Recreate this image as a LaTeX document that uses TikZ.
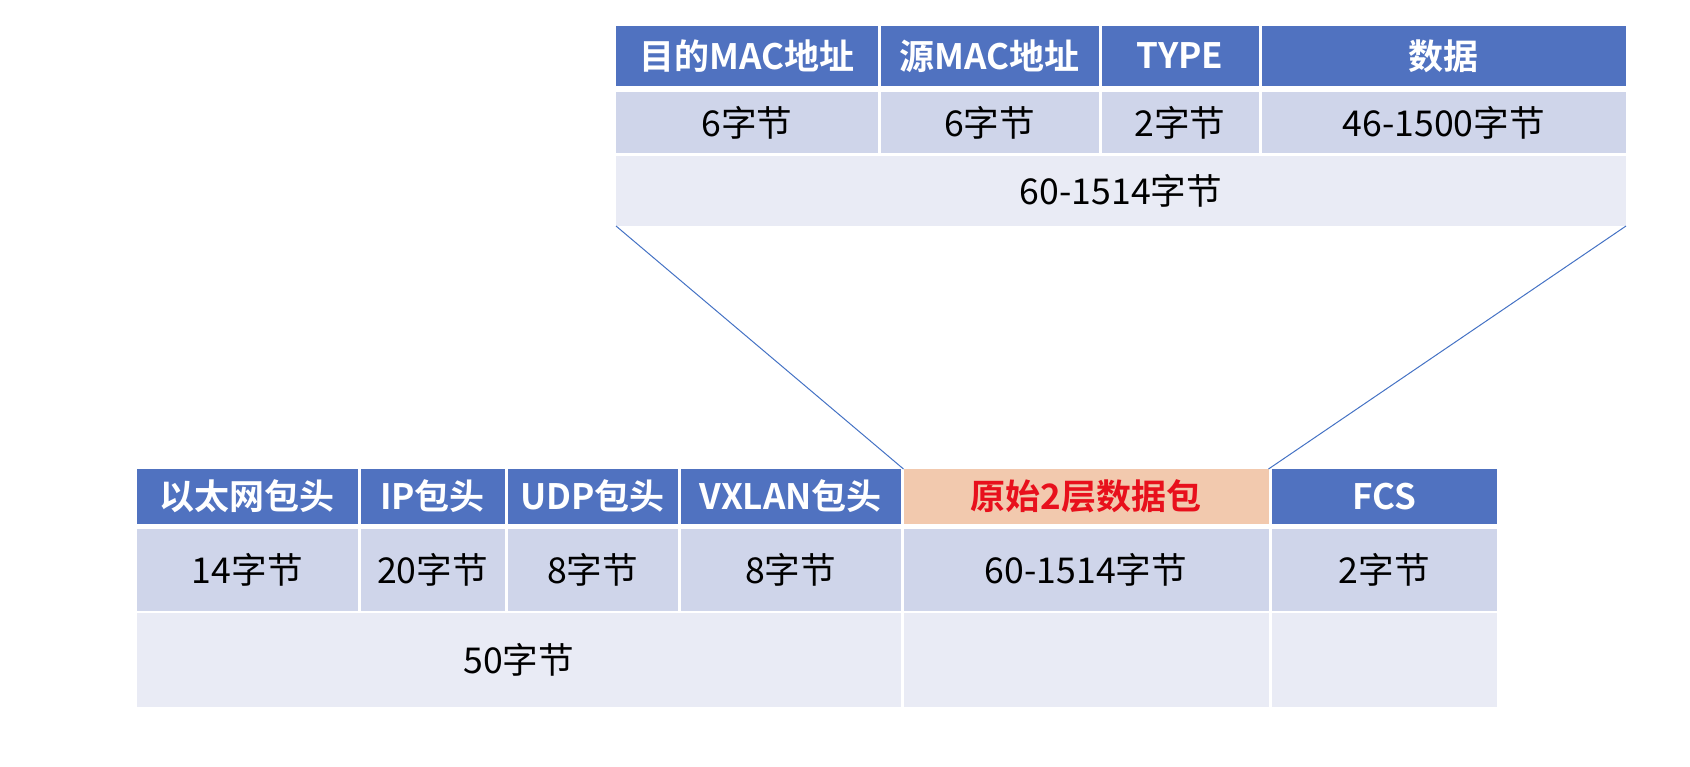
\documentclass[tikz,border=0pt]{standalone}
\usepackage{fontspec}
\setmainfont{Noto Sans CJK SC}[BoldFont={Noto Sans CJK SC Bold}]
\definecolor{hblue}{HTML}{5072C0}
\definecolor{rowa}{HTML}{CFD5EA}
\definecolor{rowb}{HTML}{E9EBF5}
\definecolor{horange}{HTML}{F2C9AE}
\definecolor{hred}{HTML}{E8101C}
\definecolor{lblue}{HTML}{4472C4}
\begin{document}
\begin{tikzpicture}[x=0.5pt,y=-0.5pt,
  cellbase/.style={rectangle, inner sep=0pt, outer sep=0pt, draw=none, anchor=center},
  hdr/.style={cellbase, fill=hblue, text=white, font=\fontsize{17.5}{20}\selectfont\bfseries},
  ohdr/.style={cellbase, fill=horange, text=hred, font=\fontsize{17.5}{20}\selectfont\bfseries},
  ra/.style={cellbase, fill=rowa, text=black, font=\fontsize{17.8}{20}\selectfont},
  rb/.style={cellbase, fill=rowb, text=black, font=\fontsize{17.8}{20}\selectfont},
  link/.style={draw=lblue, line width=0.5pt}]
\useasboundingbox (0,0) rectangle (1690,766);
% ---- top table ----
\node[hdr, minimum width=130.75pt, minimum height=30pt] (t1) at (746.75,56) {目的MAC地址};
\node[hdr, minimum width=109pt, minimum height=30pt] (t2) at (989.5,56) {源MAC地址};
\node[hdr, minimum width=78.5pt, minimum height=30pt] (t3) at (1180,56) {TYPE};
\node[hdr, minimum width=182.25pt, minimum height=30pt] (t4) at (1443.75,56) {数据};
\node[ra, minimum width=130.75pt, minimum height=30.5pt] (u1) at (746.75,122.5) {6字节};
\node[ra, minimum width=109pt, minimum height=30.5pt] (u2) at (989.5,122.5) {6字节};
\node[ra, minimum width=78.5pt, minimum height=30.5pt] (u3) at (1180,122.5) {2字节};
\node[ra, minimum width=182.25pt, minimum height=30.5pt] (u4) at (1443.75,122.5) {46-1500字节};
\node[rb, minimum width=505pt, minimum height=35pt] (v1) at (1121,191) {60-1514字节};
% ---- bottom table ----
\node[hdr, minimum width=110.25pt, minimum height=27.5pt] (b1) at (247.25,496.5) {以太网包头};
\node[hdr, minimum width=72pt, minimum height=27.5pt] (b2) at (432.5,496.5) {IP包头};
\node[hdr, minimum width=85pt, minimum height=27.5pt] (b3) at (592.5,496.5) {UDP包头};
\node[hdr, minimum width=110pt, minimum height=27.5pt] (b4) at (790.5,496.5) {VXLAN包头};
\node[ohdr, minimum width=182.5pt, minimum height=27.5pt] (b5) at (1086,496.5) {原始2层数据包};
\node[hdr, minimum width=112.75pt, minimum height=27.5pt] (b6) at (1384.25,496.5) {FCS};
\node[ra, minimum width=110.25pt, minimum height=41pt] (c1) at (247.25,570) {14字节};
\node[ra, minimum width=72pt, minimum height=41pt] (c2) at (432.5,570) {20字节};
\node[ra, minimum width=85pt, minimum height=41pt] (c3) at (592.5,570) {8字节};
\node[ra, minimum width=110pt, minimum height=41pt] (c4) at (790.5,570) {8字节};
\node[ra, minimum width=182.5pt, minimum height=41pt] (c5) at (1086,570) {60-1514字节};
\node[ra, minimum width=112.75pt, minimum height=41pt] (c6) at (1384.25,570) {2字节};
\node[rb, minimum width=381.75pt, minimum height=47pt] (d1) at (518.75,660) {50字节};
\node[rb, minimum width=182.5pt, minimum height=47pt] (d2) at (1086,660) {};
\node[rb, minimum width=112.75pt, minimum height=47pt] (d3) at (1384.25,660) {};
% ---- connectors ----
\draw[link] (v1.south west) -- (b5.north west);
\draw[link] (v1.south east) -- (b5.north east);
\end{tikzpicture}
\end{document}
